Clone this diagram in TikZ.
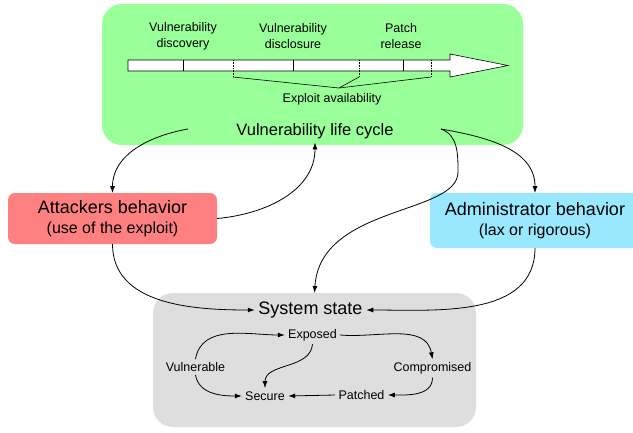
\documentclass[tikz,border=0pt]{standalone}
\usepackage{fontspec}
\setmainfont{Liberation Sans}
\usetikzlibrary{positioning}
\usetikzlibrary{arrows.meta}
\definecolor{lifegreen}{RGB}{153,255,153}
\definecolor{attred}{RGB}{255,128,128}
\definecolor{admblue}{RGB}{153,232,255}
\definecolor{stategray}{RGB}{222,222,222}
\tikzset{
    lifebox/.style = {rectangle, rounded corners=20pt, fill=lifegreen, inner sep=0pt, outer sep=0pt},
    actorbox/.style = {rectangle, rounded corners=7pt, align=center, inner sep=0pt, outer sep=0pt, font=\fontsize{18}{20}\selectfont},
    ticklabel/.style = {align=center, inner sep=1pt, font=\fontsize{12.5}{16}\selectfont},
    stnode/.style = {inner sep=3pt, font=\fontsize{12.5}{15}\selectfont},
    edgen/.style = {-{Latex[length=7pt,width=5pt]}, thick}, % between boxes
    edges/.style = {-{Latex[length=7pt,width=5pt]}, thick}, % system states
}

\begin{document}
\begin{tikzpicture}[x=1pt, y=-1pt, thick]
  \useasboundingbox (0,0) rectangle (633,432);
  % boxes
  \node[lifebox, minimum width=421pt, minimum height=141pt] (cyclebox) at (312.5,74.5) {};
  \node[lifebox, fill=stategray, minimum width=323pt, minimum height=134pt] (statebox) at (314.5,360) {};
  \node[actorbox, fill=attred, minimum width=209pt, minimum height=51pt] (att) at (112.5,218.5)
    {Attackers behavior\\{\fontsize{16}{20}\selectfont(use of the exploit)}};
  \node[actorbox, fill=admblue, minimum width=210pt, minimum height=55pt] (adm) at (535,220.5)
    {Administrator behavior\\{\fontsize{16}{20}\selectfont(lax or rigorous)}};

  % time line
  \draw[fill=white, semithick] (128,60) -- (450,60) -- (450,54) -- (508,65.5) -- (450,77) -- (450,71) -- (128,71) -- cycle;
  \foreach \x in {183,293,403}
    \draw[semithick] (\x,60) -- (\x,71);
  \foreach \x in {233,359,431}
    \draw[semithick, densely dotted] (\x,60) -- (\x,77);
  \coordinate (apex) at (339,88);
  \draw[semithick] (233,77) -- (apex) -- (431,77);
  \draw[semithick] (359,77) -- (apex);
  \node[ticklabel] (discov) at (183,36) {Vulnerability\\discovery};
  \node[ticklabel] (disclo) at (293,36) {Vulnerability\\disclosure};
  \node[ticklabel] (patchrel) at (401,36) {Patch\\release};
  \node[ticklabel] (exploit) at (332,99.5) {Exploit availability};
  \node[font=\fontsize{16.5}{18}\selectfont] (lifecycle) at (315,131) {Vulnerability life cycle};

  % states
  \node[font=\fontsize{18}{20}\selectfont] (sys) at (310.5,310) {System state};
  \node[stnode] (exp) at (312.5,335) {Exposed};
  \node[stnode] (vul) at (195.5,367) {Vulnerable};
  \node[stnode] (com) at (432.5,368.5) {Compromised};
  \node[stnode] (sec) at (265,396) {Secure};
  \node[stnode] (pat) at (361.5,395) {Patched};

  \coordinate (lcw) at (188,129);
  \coordinate (lce) at (441,129);
  \coordinate (bend) at (458,172);

  \draw[edgen] (lcw) to[out=190,in=90] (att.north);
  \draw[edgen] (att.east) to[out=5,in=-90] (lifecycle.south);
  \draw[edgen] (lce) to[out=-10,in=90] (adm.north);
  \draw[edgen] (lce) to[out=-20,in=90] (bend) .. controls (458,215) and (320,205) .. (statebox.north);
  \draw[edgen] (att.south) to[out=-90,in=180] (sys.west);
  \draw[edgen] (adm.south) to[out=-90,in=0] (sys.east);

  \draw[edges] (vul.north) to[out=80,in=180] (exp.west);
  \draw[edges] (vul.south) to[out=-80,in=180] (sec.west);
  \draw[edges] (exp.south) to[out=-95,in=90] (sec.north);
  \draw[edges] (exp.east) to[out=-5,in=100] (com.north);
  \draw[edges] (com.south) to[out=-90,in=0] (pat.east);
  \draw[edges] (pat.west) -- (sec.east);
\end{tikzpicture}
\end{document}
